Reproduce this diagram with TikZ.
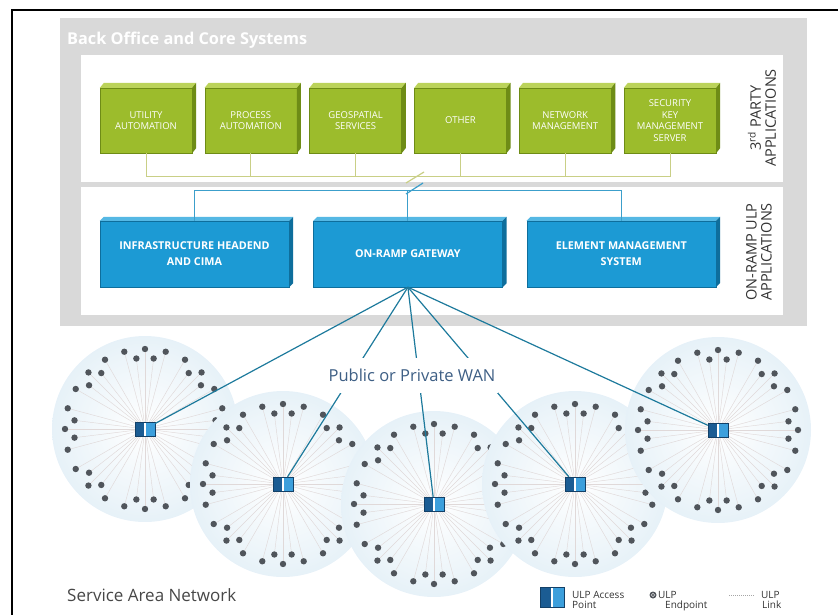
\documentclass[tikz,border=0pt]{standalone}
\usepackage{fontspec}
\setmainfont{Open Sans}
\usetikzlibrary{calc,positioning}

\definecolor{panelgray}{HTML}{D9D9D9}
\definecolor{appgreen}{HTML}{9CBC2C}
\definecolor{appgreenlt}{HTML}{BBD35A}
\definecolor{appgreendk}{HTML}{6E8C16}
\definecolor{busgreen}{HTML}{C9CF86}
\definecolor{ulpblue}{HTML}{1C9AD4}
\definecolor{ulpbluelt}{HTML}{55B8E4}
\definecolor{ulpbluedk}{HTML}{0E6E9C}
\definecolor{busblue}{HTML}{3C9FCB}
\definecolor{wanline}{HTML}{1D7A9C}
\definecolor{wantext}{HTML}{3E5F85}
\definecolor{cellblue}{HTML}{C9E1EF}
\definecolor{dotgray}{HTML}{50555B}
\definecolor{raygray}{HTML}{E0D9D9}
\definecolor{hubdark}{HTML}{1B5C93}
\definecolor{hublight}{HTML}{3C9FDC}
\definecolor{labelgray}{HTML}{333333}

\pgfdeclareradialshading{cellshade}{\pgfpoint{0bp}{0bp}}{color(0bp)=(white); color(20bp)=(white!65!cellblue); color(50bp)=(cellblue)}

\begin{document}
\begin{tikzpicture}[x=1pt,y=-1pt,
  grnbox/.style={fill=appgreen, draw=appgreendk, line width=0.3pt, text=white, align=center,
    minimum width=92pt, minimum height=65pt, inner sep=1pt, font=\fontsize{9.5}{11.5}\selectfont},
  bluebox/.style={fill=ulpblue, draw=ulpbluedk, line width=0.4pt, text=white, align=center,
    minimum width=189pt, minimum height=66pt, inner sep=1pt, font=\bfseries\fontsize{10.8}{16}\selectfont},
  sidelabel/.style={rotate=90, align=center, text=labelgray, font=\fontsize{14.5}{15}\selectfont},
  grnbus/.style={busgreen, line width=0.8pt},
  bluebus/.style={busblue, line width=0.9pt},
  wan/.style={wanline, line width=1.2pt},
  ray/.style={raygray, line width=0.45pt},
  ulpdot/.style={fill=dotgray},
  ulpap/.style={draw=hubdark!70!black, line width=0.4pt, fill=hublight, inner sep=0pt,
    minimum width=20pt, minimum height=14pt,
    path picture={
      \fill[hubdark] (path picture bounding box.south west) rectangle (path picture bounding box.north);
      \draw[white, line width=1.3pt] (path picture bounding box.south) -- (path picture bounding box.north);}},
  legtext/.style={text=labelgray, align=left, inner sep=0pt, font=\fontsize{10}{10.5}\selectfont}]
  \def\rcell{93}
  \def\rout{80}
  \def\rin{71}

  \useasboundingbox (0,0) rectangle (838,615);

  % frame
  \draw[line width=2.2pt] (12,620) -- (12,10) -- (842,10);

  % back office panel
  \fill[panelgray] (60,18) rectangle (807,326);
  \fill[white] (81,55) rectangle (783,182);
  \fill[white] (81,187) rectangle (783,315);
  \node[anchor=base west, text=white, inner sep=0pt, font=\bfseries\fontsize{16.3}{18}\selectfont] (title) at (67,45) {Back Office and Core Systems};

  % 3rd party applications
  \node[grnbox] (ua) at (146,120.5) {UTILITY\\AUTOMATION};
  \node[grnbox, right=12.5pt of ua] (pa) {PROCESS\\AUTOMATION};
  \node[grnbox, right=12.5pt of pa] (gs) {GEOSPATIAL\\SERVICES};
  \node[grnbox, right=12.5pt of gs] (ot) {OTHER};
  \node[grnbox, right=12.5pt of ot] (nm) {NETWORK\\MANAGEMENT};
  \node[grnbox, right=12.5pt of nm] (sk) {SECURITY\\KEY\\MANAGEMENT\\SERVER};
  \foreach \n in {ua,pa,gs,ot,nm,sk} {
    \fill[appgreenlt] (\n.north west) -- ++(4,-5) -- ([shift={(4,-5)}]\n.north east) -- (\n.north east) -- cycle;
    \fill[appgreendk] (\n.north east) -- ++(4,-5) -- ([shift={(4,-5)}]\n.south east) -- (\n.south east) -- cycle;
  }
  \coordinate (gbus) at (0,176);
  \draw[grnbus] (ua.south) -- (ua.south |- gbus) -- (sk.south |- gbus) -- (sk.south);
  \foreach \n in {pa,gs,ot,nm}
    \draw[grnbus] (\n.south) -- (\n.south |- gbus);
  \node[sidelabel] (tpa) at (762,118) {3\textsuperscript{rd} PARTY\\APPLICATIONS};

  % on-ramp ulp applications
  \node[bluebox] (ih) at (194.5,254) {INFRASTRUCTURE HEADEND\\AND CIMA};
  \node[bluebox, right=24pt of ih] (gw) {ON-RAMP GATEWAY};
  \node[bluebox, right=24pt of gw] (em) {ELEMENT MANAGEMENT\\SYSTEM};
  \foreach \n in {ih,gw,em} {
    \fill[ulpbluelt] (\n.north west) -- ++(4,-4) -- ([shift={(4,-4)}]\n.north east) -- (\n.north east) -- cycle;
    \fill[ulpbluedk] (\n.north east) -- ++(4,-4) -- ([shift={(4,-4)}]\n.south east) -- (\n.south east) -- cycle;
  }
  \coordinate (bbus) at (0,190);
  \draw[bluebus] (ih.north) -- (ih.north |- bbus) -- (em.north |- bbus) -- (em.north);
  \draw[bluebus] (gw.north) -- (gw.north |- bbus);
  % break marks
  \draw[grnbus, line width=1.2pt] (406,183) -- (424,172);
  \draw[bluebus, line width=1.2pt] (406,194) -- (423,183);
  \node[sidelabel] (ora) at (759,252) {ON-RAMP ULP\\APPLICATIONS};

  % service area cells
  \foreach \hx/\hy/\hn in {145/429/ap1, 283/484/ap2, 434/504/ap3, 575/484/ap4, 718/430/ap5} {
    \shade[shading=cellshade] (\hx,\hy) circle (\rcell);
    \foreach \a in {0,15,...,345} {
      \draw[ray] (\hx,\hy) -- ++(\a:\rout);
      \fill[ulpdot] (\hx,\hy) ++(\a:\rout) circle (3.2);
    }
    \foreach \a in {7,38,52,83,97,128,142,173,187,218,232,263,277,308,322,353} {
      \draw[ray] (\hx,\hy) -- ++(\a:\rin);
      \fill[ulpdot] (\hx,\hy) ++(\a:\rin) circle (3.2);
    }
    \node[ulpap] (\hn) at (\hx,\hy) {};
  }

  % wan links
  \foreach \n in {ap1,ap2,ap3,ap4,ap5}
    \draw[wan] (gw.south) -- (\n);
  \node[fill=white, text=wantext, minimum height=35pt, inner xsep=3pt, font=\fontsize{16.5}{18}\selectfont] (wanl) at (412,375) {Public or Private WAN};

  \node[anchor=base west, text=black!72, inner sep=0pt, font=\fontsize{17}{19}\selectfont] (san) at (67,601) {Service Area Network};

  % legend
  \node[ulpap, minimum width=24pt, minimum height=20pt] (legap) at (552,597) {};
  \node[legtext, anchor=north west] (legapt) at (572,591) {ULP Access\\Point};
  \fill[ulpdot] (653,595) circle (3.5);
  \draw[white!75!dotgray, line width=0.5pt] (653,595) circle (1.8);
  \node[legtext, anchor=north west] (legep) at (658,591) {ULP\\\hspace*{7pt}Endpoint};
  \coordinate (lk1) at (729,595);
  \coordinate (lk2) at (754,595);
  \draw[gray!70, line width=0.6pt, dash pattern=on 1pt off 1pt] (lk1) -- (lk2);
  \node[legtext, anchor=north west] (leglk) at (761,591) {ULP\\\hspace*{1pt}Link};
\end{tikzpicture}
\end{document}
